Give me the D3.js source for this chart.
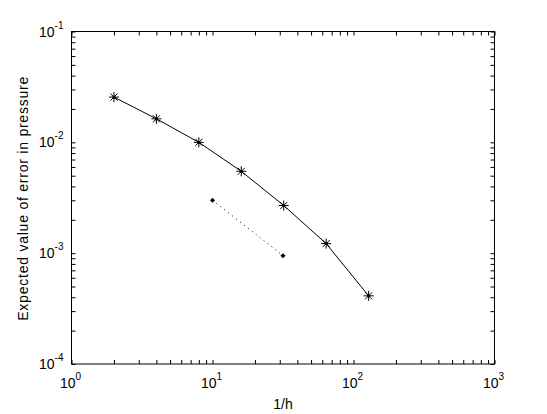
<!DOCTYPE html>
<html>
<head>
<meta charset="utf-8">
<script src="https://cdn.jsdelivr.net/npm/d3@7"></script>
<style>
  body { margin: 0; background: #fff; }
  svg { display: block; font-family: "Liberation Sans", Arial, sans-serif; }
</style>
</head>
<body>
<svg id="chart" width="547" height="414"></svg>
<script>
// data
const hInv = [2, 4, 8, 16, 32, 64, 128];
const pressureErr = [0.0256, 0.0163, 0.0100, 0.00548, 0.00269, 0.00122, 0.000412];
const refX = [10, 31.6];
const refY = [0.0030, 0.00095];
const xDecades = [0, 1, 2, 3];
const yDecades = [-4, -3, -2, -1];

const margin = {top: 31.5, right: 52.5, bottom: 50, left: 71.5};
const svg = d3.select('#chart');
const w = +svg.attr('width') - margin.left - margin.right;
const h = +svg.attr('height') - margin.top - margin.bottom;

const x = d3.scaleLog().domain([1, 1000]).range([0, w]);
const y = d3.scaleLog().domain([1e-4, 1e-1]).range([h, 0]);

const g = svg.append('g').attr('transform', `translate(${margin.left},${margin.top})`);

// all log ticks (majors + minors), same length, pointing inward
const logTicks = (lo, hi) => {
  const t = [];
  for (let e = lo; e < hi; e++) for (let m = 1; m < 10; m++) t.push(m * Math.pow(10, e));
  t.push(Math.pow(10, hi));
  return t;
};
const xt = logTicks(0, 3), yt = logTicks(-4, -1);

const styleAxis = sel => {
  sel.select('.domain').remove();
  sel.selectAll('line').attr('stroke', '#000');
};
g.append('g').attr('transform', `translate(0,${h})`)
  .call(d3.axisBottom(x).tickValues(xt).tickSize(-4).tickFormat('')).call(styleAxis);
g.append('g')
  .call(d3.axisTop(x).tickValues(xt).tickSize(-4).tickFormat('')).call(styleAxis);
g.append('g')
  .call(d3.axisLeft(y).tickValues(yt).tickSize(-4).tickFormat('')).call(styleAxis);
g.append('g').attr('transform', `translate(${w},0)`)
  .call(d3.axisRight(y).tickValues(yt).tickSize(-4).tickFormat('')).call(styleAxis);

// box
g.append('rect').attr('width', w).attr('height', h)
  .attr('fill', 'none').attr('stroke', '#000').attr('stroke-width', 1);

// tick labels with superscript exponents
const powLabel = (sel, e) => {
  sel.append('tspan').text('10');
  sel.append('tspan').attr('dy', -8).attr('font-size', 10).text(e);
};
g.append('g').selectAll('text').data(xDecades).enter().append('text')
  .attr('x', d => x(Math.pow(10, d)) - 1)
  .attr('y', h + 24)
  .attr('text-anchor', 'middle')
  .attr('font-size', 14)
  .each(function(d) { powLabel(d3.select(this), d); });
g.append('g').selectAll('text').data(yDecades).enter().append('text')
  .attr('x', -8)
  .attr('y', d => y(Math.pow(10, d)) + 5)
  .attr('text-anchor', 'end')
  .attr('font-size', 14)
  .each(function(d) { powLabel(d3.select(this), d); });

// axis titles
g.append('text')
  .attr('x', w / 2).attr('y', h + 45)
  .attr('text-anchor', 'middle').attr('font-size', 14)
  .text('1/h');
g.append('text')
  .attr('transform', `translate(${-44},${h / 2 + 1}) rotate(-90)`)
  .attr('text-anchor', 'middle').attr('font-size', 14)
  .attr('textLength', 244).attr('lengthAdjust', 'spacing')
  .text('Expected value of error in pressure');

// error curve
const pts = hInv.map((d, i) => [d, pressureErr[i]]);
const line = d3.line().x(d => x(d[0])).y(d => y(d[1]));
g.append('path').datum(pts).attr('d', line)
  .attr('fill', 'none').attr('stroke', '#000').attr('stroke-width', 1);

const star = g.append('g').selectAll('g').data(pts).enter().append('g')
  .attr('transform', d => `translate(${x(d[0])},${y(d[1])})`);
const r = 5;
star.append('path')
  .attr('d', `M${-r},0H${r}M0,${-r}V${r}M${-r * 0.7},${-r * 0.7}L${r * 0.7},${r * 0.7}M${-r * 0.7},${r * 0.7}L${r * 0.7},${-r * 0.7}`)
  .attr('stroke', '#000').attr('stroke-width', 1).attr('fill', 'none');
star.append('circle').attr('r', 1.6).attr('fill', '#000');

// slope reference line
const refPts = refX.map((d, i) => [d, refY[i]]);
g.append('path').datum(refPts).attr('d', line)
  .attr('fill', 'none').attr('stroke', '#000').attr('stroke-width', 1)
  .attr('stroke-dasharray', '1,4');
g.append('g').selectAll('path').data(refPts).enter().append('path')
  .attr('transform', d => `translate(${x(d[0])},${y(d[1])})`)
  .attr('d', 'M0,-2.5L2.5,0L0,2.5L-2.5,0Z')
  .attr('fill', '#000');
</script>
</body>
</html>
